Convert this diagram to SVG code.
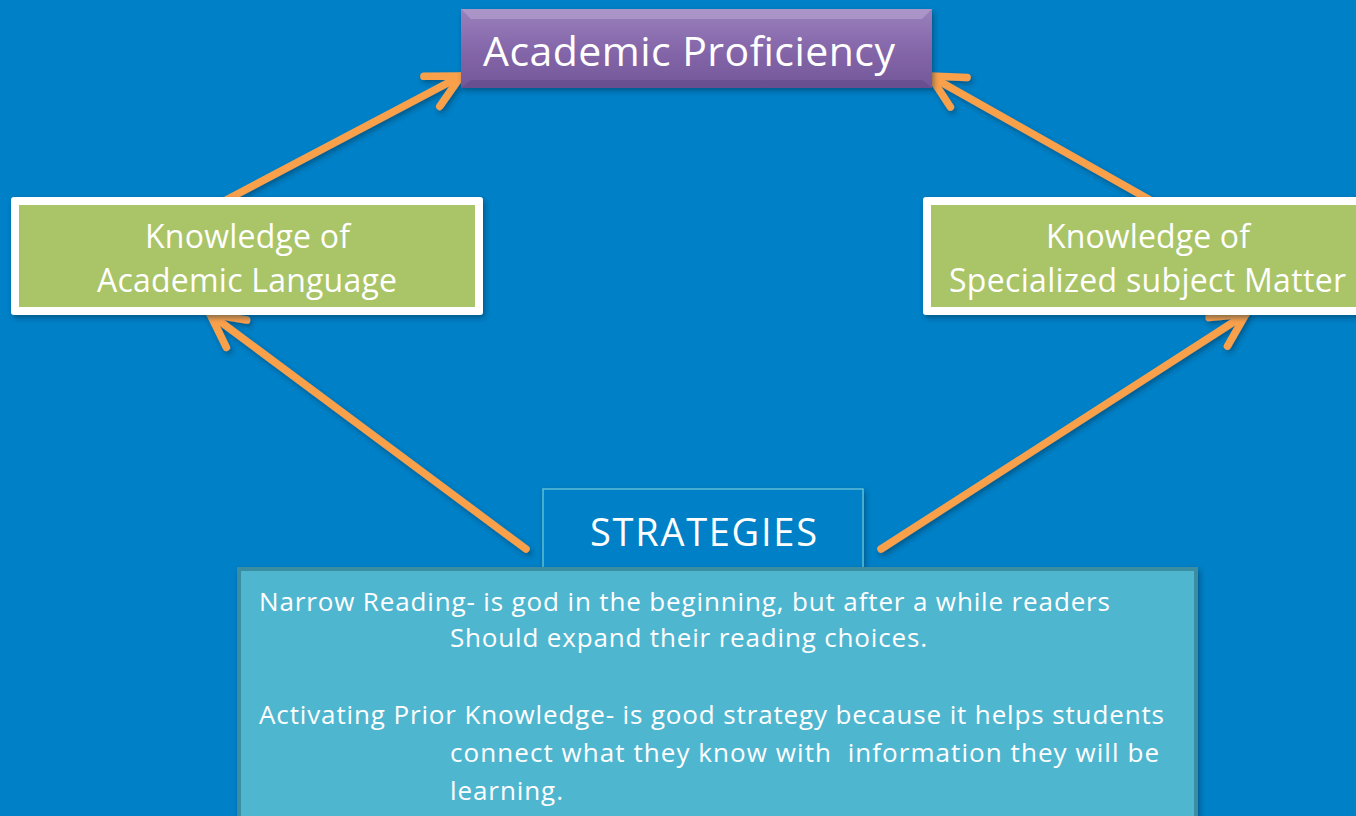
<svg xmlns="http://www.w3.org/2000/svg" width="1356" height="816" viewBox="0 0 1356 816">
<defs>
<style>
.t{font-family:"Open Sans","Liberation Sans",sans-serif;fill:#ffffff}
.conn{stroke:#F9A04B;stroke-width:7.5;stroke-linecap:round;stroke-linejoin:round;fill:none;filter:url(#sh)}
</style>
<filter id="sh" x="-20%" y="-20%" width="140%" height="140%">
<feDropShadow dx="2" dy="3" stdDeviation="2.5" flood-color="#002a44" flood-opacity="0.45"/>
</filter>
<linearGradient id="pg" x1="0" y1="0" x2="0" y2="1">
<stop offset="0" stop-color="#9A80BC"/>
<stop offset="0.5" stop-color="#8567AA"/>
<stop offset="1" stop-color="#735799"/>
</linearGradient>
<marker id="ah" markerUnits="userSpaceOnUse" markerWidth="80" markerHeight="80" refX="0" refY="0" orient="auto" viewBox="-40 -40 80 80" overflow="visible">
<path d="M-33,-17 L0,0 L-33,17" stroke="#F9A04B" stroke-width="7.5" stroke-linecap="round" stroke-linejoin="round" fill="none"/>
</marker>
</defs>
<rect x="0" y="0" width="1356" height="816" fill="#0080C6"/>

<g id="connectors">
<line class="conn" x1="226" y1="200" x2="461" y2="76" marker-end="url(#ah)"/>
<line class="conn" x1="1150" y1="200" x2="930" y2="76" marker-end="url(#ah)"/>
<line class="conn" x1="526" y1="549" x2="210" y2="314" marker-end="url(#ah)"/>
<line class="conn" x1="881" y1="549" x2="1246" y2="314" marker-end="url(#ah)"/>
</g>

<g id="academic-proficiency">
<rect x="461" y="9" width="471" height="79" fill="url(#pg)" filter="url(#sh)"/>
<polygon points="461,9 932,9 922,19 471,19" fill="#B7A3D0" opacity="0.6"/>
<polygon points="461,88 932,88 922,80 471,80" fill="#5E4683" opacity="0.5"/>
<text class="t" x="483" y="66" font-size="41" textLength="412">Academic Proficiency</text>
</g>

<g id="academic-language">
<rect x="11" y="197" width="472" height="118" rx="3" fill="#ffffff" filter="url(#sh)"/>
<rect x="19" y="205" width="456" height="102" fill="#AAC468"/>
<text class="t" x="145" y="248" font-size="32" textLength="205">Knowledge of</text>
<text class="t" x="97" y="292" font-size="32" textLength="300">Academic Language</text>
</g>

<g id="subject-matter">
<rect x="923" y="197" width="445" height="118" rx="3" fill="#ffffff" filter="url(#sh)"/>
<rect x="931" y="205" width="437" height="102" fill="#AAC468"/>
<text class="t" x="1046" y="248" font-size="32" textLength="204">Knowledge of</text>
<text class="t" x="949" y="292" font-size="32" textLength="397">Specialized subject Matter</text>
</g>

<g id="strategies">
<rect x="543" y="489" width="320" height="80" fill="#0080C6" stroke="#5CBDD6" stroke-width="1.5" filter="url(#sh)"/>
<text class="t" x="590" y="546" font-size="38" textLength="227">STRATEGIES</text>
</g>

<g id="strategies-list">
<rect x="239" y="569" width="957" height="260" fill="#50B6D0" stroke="#3A8EA2" stroke-width="4" filter="url(#sh)"/>
<text class="t" x="259" y="611" font-size="26" textLength="851">Narrow Reading- is god in the beginning, but after a while readers</text>
<text class="t" x="450" y="647" font-size="26" textLength="477">Should expand their reading choices.</text>
<text class="t" x="259" y="724" font-size="26" textLength="905">Activating Prior Knowledge- is good strategy because it helps students</text>
<text class="t" x="450" y="762" font-size="26" textLength="709" xml:space="preserve">connect what they know with  information they will be</text>
<text class="t" x="450" y="800" font-size="26" textLength="113">learning.</text>
</g>
</svg>
